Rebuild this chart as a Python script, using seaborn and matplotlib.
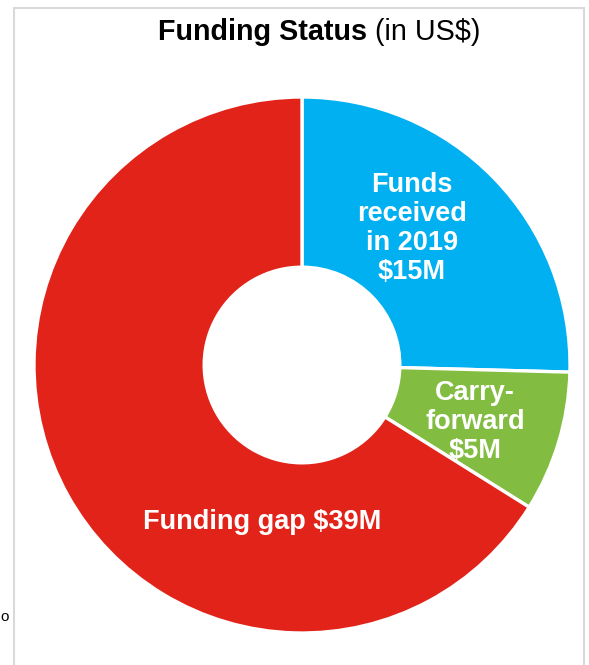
import matplotlib
matplotlib.use("Agg")
import matplotlib.pyplot as plt
from matplotlib.patches import Rectangle
import seaborn as sns

sns.set_style("white")
plt.rcParams['font.family'] = ['Liberation Sans', 'DejaVu Sans']
plt.rcParams['text.color'] = 'black'

# data (US$ millions)
categories = ["Funds received in 2019", "Carry-forward", "Funding gap"]
amounts = [15, 5, 39]
slice_labels = ["Funds\nreceived\nin 2019\n$15M", "Carry-\nforward\n$5M",
                "Funding gap $39M"]
colors = ["#00B0F0", "#82BD41", "#E2231A"]

# where each label sits, in units of the outer radius
label_pos = [(0.41, 0.51), (0.645, -0.213), (-0.15, -0.585)]

W, H = 589, 665
fig = plt.figure(figsize=(W / 100, H / 100), dpi=100)

# light grey frame round the chart
fig.add_artist(Rectangle((14 / W, -0.05), 570 / W, (H - 8) / H + 0.05,
                         transform=fig.transFigure, fill=False,
                         edgecolor="#d9d9d9", linewidth=1.5))

cx, cy, r = 302, H - 365, 268
half = 272
ax = fig.add_axes([(cx - half) / W, (cy - half) / H, 2 * half / W, 2 * half / H])
ax.pie(amounts, colors=colors, startangle=90, counterclock=False,
       radius=1.0, wedgeprops=dict(width=0.635, edgecolor="white",
                                   linewidth=2.4))
lim = half / r
ax.set_xlim(-lim, lim)
ax.set_ylim(-lim, lim)
ax.set_aspect("equal")
ax.axis("off")

for (x, y), txt in zip(label_pos, slice_labels):
    ax.text(x, y, txt, color="white", fontsize=19.5, fontweight="bold",
            ha="center", va="center", linespacing=1.15)

t1 = fig.text(158 / W, 1 - 32 / H, "Funding Status", fontsize=20.7,
              fontweight="bold", ha="left", va="center", color="black")
ax.annotate(" (in US$)", xy=(1, 0.5), xycoords=t1, va="center", ha="left",
            fontsize=20.7, color="black", annotation_clip=False)

# small fragment at the left edge
fig.text(0, 1 - 617 / H, "o", fontsize=11, ha="left", va="center",
         color="black")

fig.savefig("out.png", dpi=100)
